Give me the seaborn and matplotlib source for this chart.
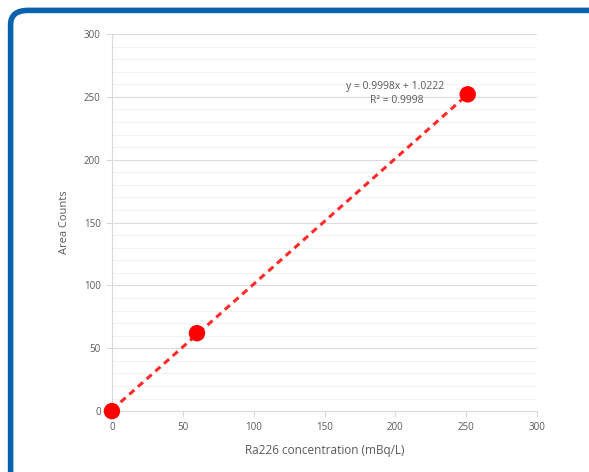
import numpy as np
import pandas as pd
import matplotlib.pyplot as plt
import seaborn as sns
from matplotlib.patches import FancyBboxPatch
from matplotlib.ticker import MultipleLocator

# Dữ liệu đường chuẩn
concentration = [0, 60, 251]
area_counts = [0, 62, 252]
slope = 0.9998
intercept = 1.0222

df = pd.DataFrame({'conc': concentration, 'area': area_counts})

sns.set_style('white')
plt.rcParams['font.family'] = ['Open Sans', 'DejaVu Sans']

fig = plt.figure(figsize=(5.89, 4.72), dpi=100)
ax = fig.add_axes([0.190, 0.129, 0.722, 0.799])

# Khung viền xanh bo góc
frame = FancyBboxPatch((0.018, -0.05), 1.05, 1.028, boxstyle='round,pad=0,rounding_size=0.03',
                       transform=fig.transFigure, facecolor='none', edgecolor='#0563ad',
                       linewidth=4, zorder=0)
fig.patches.append(frame)

grey = '#595959'

# Đường xu hướng
xs = np.array([0, max(concentration)])
ax.plot(xs, slope * xs + intercept, color='#ff2a2a', linestyle=(0, (2.2, 1.6)), linewidth=2.2, zorder=2)

sns.scatterplot(data=df, x='conc', y='area', ax=ax, color='#ff0000', s=140,
                edgecolor='none', zorder=3, legend=False)

ax.set_xlim(0, 300)
ax.set_ylim(0, 300)
ax.xaxis.set_major_locator(MultipleLocator(50))
ax.yaxis.set_major_locator(MultipleLocator(50))
ax.yaxis.set_minor_locator(MultipleLocator(10))
ax.grid(axis='y', which='major', color='#dcdcdc', linewidth=0.8)
ax.grid(axis='y', which='minor', color='#f3f3f3', linewidth=0.8)
ax.set_axisbelow(True)

for side in ['top', 'right']:
    ax.spines[side].set_visible(False)
for side in ['left', 'bottom']:
    ax.spines[side].set_color('#d9d9d9')
    ax.spines[side].set_linewidth(0.8)

ax.tick_params(axis='both', which='major', labelsize=7, labelcolor=grey, color='#d9d9d9',
               length=4, width=0.8, direction='out', bottom=True, left=True, pad=4)
ax.tick_params(axis='both', which='minor', length=0)

ax.set_xlabel('Ra226 concentration (mBq/L)', fontsize=8.5, color=grey, labelpad=8)
ax.set_ylabel('Area Counts', fontsize=8, color=grey, labelpad=10)

ax.text(200, 258, f'y = {slope:.4f}x + {intercept:.4f}', fontsize=7.5, color=grey,
        ha='center', va='center')
ax.text(201, 247, f'R² = 0.9998', fontsize=7.5, color=grey, ha='center', va='center')

for p in ax.collections:
    p.set_clip_on(False)

fig.savefig('out.png', dpi=100)
